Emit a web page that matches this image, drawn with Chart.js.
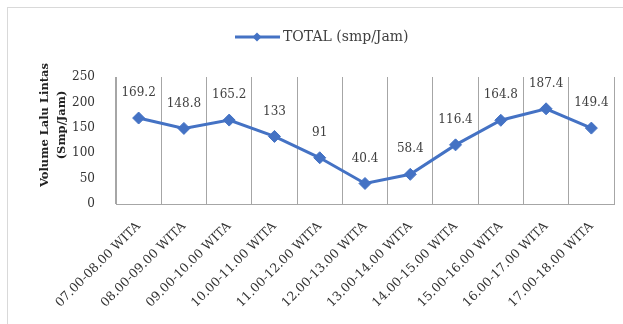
<!DOCTYPE html>
<html>
<head>
<meta charset="utf-8">
<script src="https://cdn.jsdelivr.net/npm/chart.js@4/dist/chart.umd.min.js"></script>
<style>
  body { margin: 0; background: #fff; }
  #frame { position: absolute; left: 7px; top: 7px; width: 640px; height: 340px; border: 1px solid #d9d9d9; }
  #chart { position: absolute; left: 0; top: 0; }
</style>
</head>
<body>
<div id="frame"></div>
<canvas id="chart" width="623" height="324"></canvas>
<script>
const periods = ['07.00-08.00 WITA', '08.00-09.00 WITA', '09.00-10.00 WITA', '10.00-11.00 WITA',
    '11.00-12.00 WITA', '12.00-13.00 WITA', '13.00-14.00 WITA', '14.00-15.00 WITA',
    '15.00-16.00 WITA', '16.00-17.00 WITA', '17.00-18.00 WITA'];
const totals = [169.2, 148.8, 165.2, 133, 91, 40.4, 58.4, 116.4, 164.8, 187.4, 149.4];
const yTicks = [0, 50, 100, 150, 200, 250];
const seriesName = 'TOTAL (smp/Jam)';
const yTitle = ['Volume Lalu Lintas', '(Smp/Jam)'];

const blue = '#4472C4';
const gridGray = '#a6a6a6';
const serif = "'DejaVu Serif', serif";

// value labels above each point
const valueLabels = {
    id: 'valueLabels',
    afterDatasetsDraw(chart) {
        const { ctx } = chart;
        const meta = chart.getDatasetMeta(0);
        ctx.save();
        ctx.font = '12px ' + serif;
        ctx.fillStyle = '#404040';
        ctx.textAlign = 'center';
        ctx.textBaseline = 'middle';
        meta.data.forEach((pt, i) => {
            ctx.fillText(String(totals[i]), pt.x, pt.y - 25);
        });
        ctx.restore();
    }
};

// legend (line + diamond) and the two line y title
const extras = {
    id: 'extras',
    afterDraw(chart) {
        const { ctx } = chart;
        ctx.save();
        // legend
        ctx.strokeStyle = blue;
        ctx.lineWidth = 3;
        ctx.beginPath();
        ctx.moveTo(235, 37);
        ctx.lineTo(280, 37);
        ctx.stroke();
        ctx.fillStyle = blue;
        ctx.beginPath();
        ctx.moveTo(257, 32.5);
        ctx.lineTo(261.5, 37);
        ctx.lineTo(257, 41.5);
        ctx.lineTo(252.5, 37);
        ctx.closePath();
        ctx.fill();
        ctx.font = '14px ' + serif;
        ctx.fillStyle = '#404040';
        ctx.textAlign = 'left';
        ctx.textBaseline = 'middle';
        ctx.fillText(seriesName, 283, 37);

        // y title
        ctx.font = 'bold 11.5px ' + serif;
        ctx.fillStyle = '#222';
        ctx.textAlign = 'center';
        const cy = 125;
        [45, 62].forEach((x, i) => {
            ctx.save();
            ctx.translate(x, cy);
            ctx.rotate(-Math.PI / 2);
            ctx.fillText(yTitle[i], 0, 0);
            ctx.restore();
        });
        ctx.restore();
    }
};

new Chart(document.getElementById('chart'), {
    type: 'line',
    data: {
        labels: periods,
        datasets: [{
            label: seriesName,
            data: totals,
            borderColor: blue,
            backgroundColor: blue,
            borderWidth: 3,
            pointStyle: 'rectRot',
            pointRadius: 6,
            pointBorderWidth: 1,
            pointBackgroundColor: blue,
            tension: 0
        }]
    },
    options: {
        responsive: false,
        animation: false,
        devicePixelRatio: 1,
        layout: { padding: { top: 77, left: 36, right: 9, bottom: 0 } },
        plugins: {
            legend: { display: false },
            tooltip: { enabled: false }
        },
        scales: {
            x: {
                offset: true,
                grid: { offset: true, color: gridGray, drawTicks: false },
                border: { color: gridGray },
                ticks: {
                    autoSkip: false,
                    minRotation: 45,
                    maxRotation: 45,
                    padding: 15,
                    color: '#333',
                    font: { family: serif, size: 12.5 }
                },
                afterFit(scale) { scale.height = 120; }
            },
            y: {
                min: 0,
                max: 250,
                grid: { display: false },
                border: { display: true, color: gridGray },
                afterBuildTicks(scale) { scale.ticks = yTicks.map(v => ({ value: v })); },
                ticks: {
                    padding: 13,
                    color: '#333',
                    font: { family: serif, size: 12 }
                },
                afterFit(scale) { scale.width = 80; }
            }
        }
    },
    plugins: [valueLabels, extras]
});
</script>
</body>
</html>
